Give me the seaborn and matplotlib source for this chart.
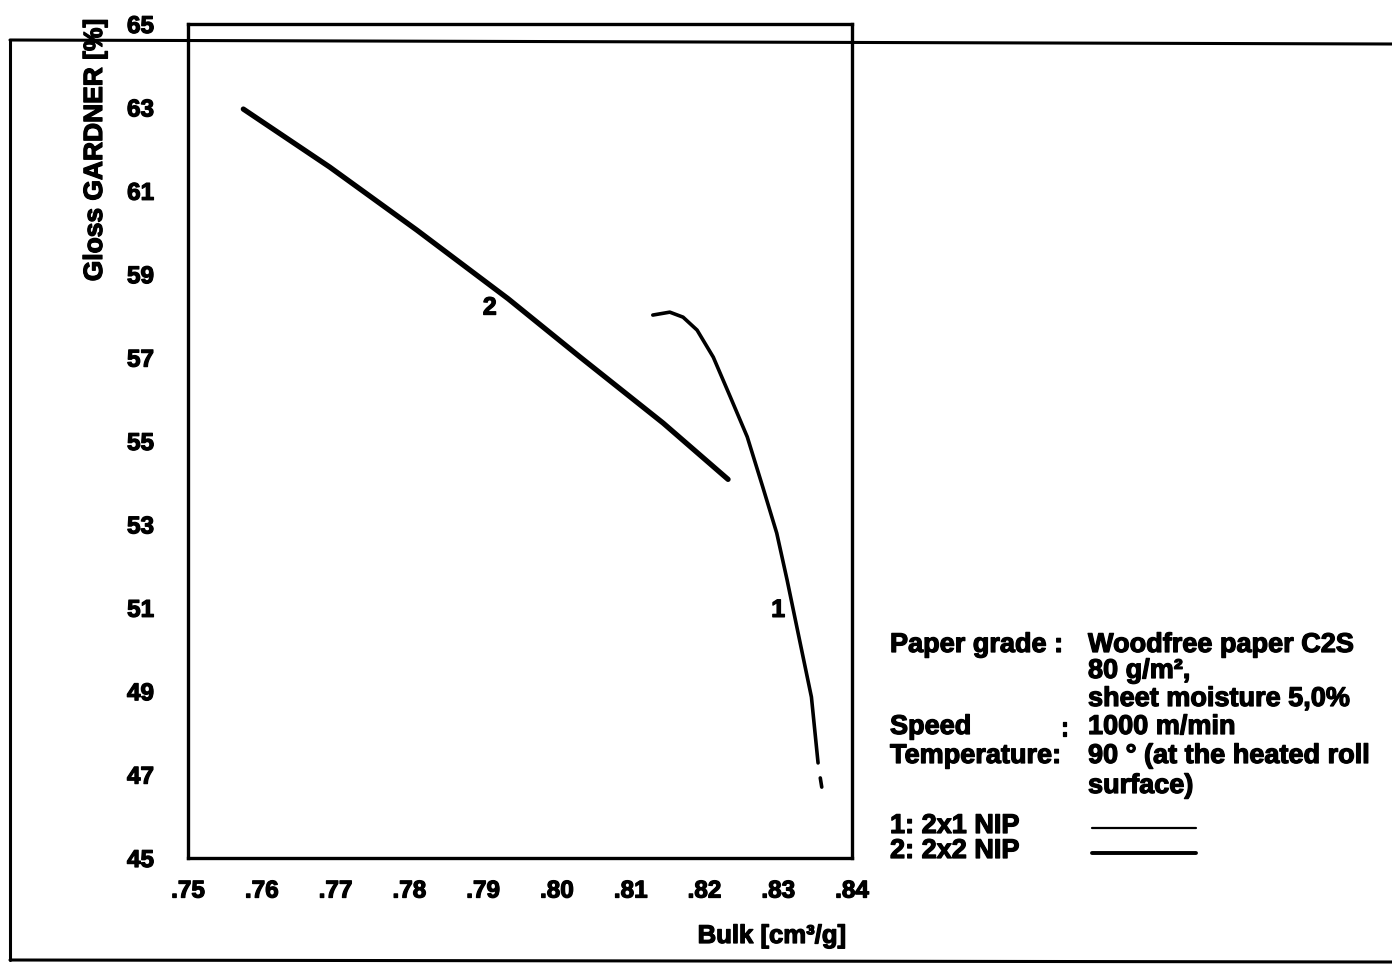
import matplotlib
matplotlib.use("Agg")
import matplotlib.pyplot as plt
import matplotlib.patheffects as pe
from matplotlib.lines import Line2D
import seaborn as sns
import pandas as pd

# curve 1: 2x1 NIP
bulk_1 = [.8130, .8153, .8171, .8190, .8212, .8235, .8258, .8279, .8298,
          .8312, .8329, .8345, .8354]
gloss_1 = [58.02, 58.09, 57.97, 57.66, 57.01, 56.06, 55.10, 53.90, 52.79,
           51.67, 50.22, 48.86, 47.28]
# small detached tail at the end of curve 1
bulk_1_tail = [.8357, .8359]
gloss_1_tail = [46.92, 46.70]

# curve 2: 2x2 NIP
bulk_2 = [.7575, .7692, .7810, .7934, .8031, .8144, .8232]
gloss_2 = [62.96, 61.57, 60.06, 58.41, 57.02, 55.43, 54.08]

x_ticks = [.75, .76, .77, .78, .79, .80, .81, .82, .83, .84]
x_ticklabels = ['.75', '.76', '.77', '.78', '.79', '.80', '.81', '.82', '.83', '.84']
y_ticks = [45, 47, 49, 51, 53, 55, 57, 59, 61, 63, 65]
y_ticklabels = ['45', '47', '49', '51', '53', '55', '57', '59', '61', '63', '65']

info_left = ['Paper grade :', '', '', 'Speed', 'Temperature:', '']
info_right = ['Woodfree paper C2S', '80 g/m²,', 'sheet moisture 5,0%',
              '1000 m/min', '90 ° (at the heated roll', 'surface)']
legend_labels = ['1: 2x1 NIP', '2: 2x2 NIP']

sns.set_theme(style="white")
plt.rcParams['font.family'] = ['Liberation Sans', 'DejaVu Sans']
plt.rcParams['font.weight'] = 'bold'
plt.rcParams['text.color'] = 'black'
plt.rcParams['axes.labelcolor'] = 'black'
plt.rcParams['xtick.color'] = 'black'
plt.rcParams['ytick.color'] = 'black'

# scanned print looks heavier than the plain bold font
heavy = [pe.withStroke(linewidth=0.9, foreground='black')]

W, H = 1392, 972


def px(x, y):
    return x / W, 1 - y / H


fig = plt.figure(figsize=(W / 100, H / 100), dpi=100)
fig.patch.set_facecolor('white')
l, b = px(188, 858)
r, t = px(852, 24)
ax = fig.add_axes([l, b, r - l, t - b])

df1 = pd.DataFrame({'bulk': bulk_1 + bulk_1_tail,
                    'gloss': gloss_1 + gloss_1_tail,
                    'seg': [0] * len(bulk_1) + [1] * len(bulk_1_tail)})
df2 = pd.DataFrame({'bulk': bulk_2, 'gloss': gloss_2})

sns.lineplot(data=df1, x='bulk', y='gloss', units='seg', estimator=None,
             sort=False, color='black', linewidth=2.6, ax=ax)
sns.lineplot(data=df2, x='bulk', y='gloss', estimator=None, sort=False,
             color='black', linewidth=3.8, ax=ax)

ax.set_xlim(.75, .84)
ax.set_ylim(45, 65)
ax.set_xticks(x_ticks)
ax.set_xticklabels(x_ticklabels)
ax.set_yticks(y_ticks)
ax.set_yticklabels(y_ticklabels)
ax.tick_params(axis='both', direction='inout', length=9, width=1.6,
               colors='black', labelsize=17.5)
ax.tick_params(axis='y', pad=20)
ax.tick_params(axis='x', pad=11)
for lab in ax.get_xticklabels() + ax.get_yticklabels():
    lab.set_fontweight('bold')
    lab.set_path_effects(heavy)
for sp in ax.spines.values():
    sp.set_visible(True)
    sp.set_color('black')
    sp.set_linewidth(2.4)
ax.set_xlabel('')
ax.set_ylabel('')

# curve labels
ax.text(.7909, 58.2, '2', fontsize=18, fontweight='bold', ha='center', va='center',
        path_effects=heavy)
ax.text(.8300, 50.95, '1', fontsize=18, fontweight='bold', ha='center', va='center',
        path_effects=heavy)

# axis titles
fig.text(*px(772, 936), 'Bulk [cm³/g]', fontsize=18.5, fontweight='bold',
         ha='center', va='center', path_effects=heavy)
fig.text(*px(95, 150), 'Gloss GARDNER [%]', fontsize=19, fontweight='bold',
         rotation=90, ha='center', va='center', path_effects=heavy)

# info block
rows_y = [645, 671, 699, 727, 756, 786]
for y, lt, rt in zip(rows_y, info_left, info_right):
    if lt:
        fig.text(*px(890, y), lt, fontsize=19.5, fontweight='bold', va='center',
                 path_effects=heavy)
    fig.text(*px(1088, y), rt, fontsize=19.5, fontweight='bold', va='center',
             path_effects=heavy)
fig.text(*px(1060, 729), ':', fontsize=19.5, fontweight='bold', va='center',
         path_effects=heavy)

leg_y = [826, 851]
leg_w = [1.6, 2.8]
for y, lab, lw in zip(leg_y, legend_labels, leg_w):
    fig.text(*px(890, y), lab, fontsize=19.5, fontweight='bold', va='center',
             path_effects=heavy)
    x0, y0 = px(1092, y + 2)
    x1, _ = px(1196, y + 2)
    fig.add_artist(Line2D([x0, x1], [y0, y0], color='black', linewidth=lw))

# scan page border
for xs, ys in [((10, 1392), (40, 44)), ((10, 10), (40, 960)), ((10, 1392), (960, 962))]:
    p0 = px(xs[0], ys[0])
    p1 = px(xs[1], ys[1])
    fig.add_artist(Line2D([p0[0], p1[0]], [p0[1], p1[1]], color='black', linewidth=2.2))

fig.savefig('out.png', dpi=100, facecolor='white')
